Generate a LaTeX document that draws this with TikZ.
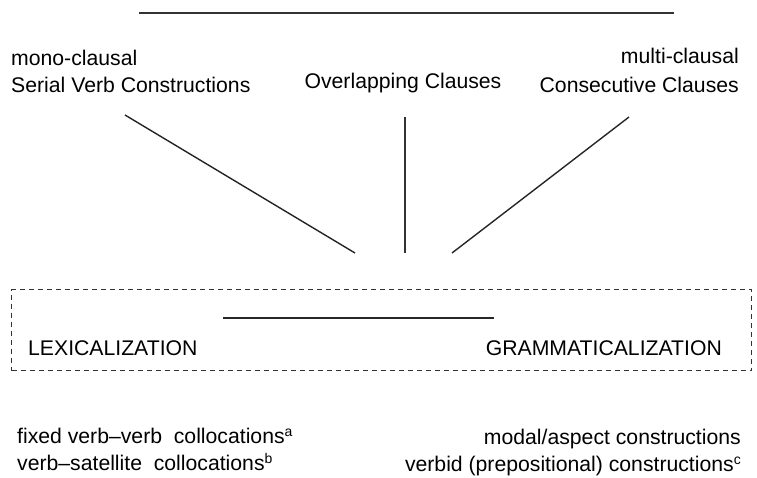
\documentclass[tikz,border=0pt]{standalone}
\usepackage{fontspec}
\setmainfont{Liberation Sans}
\newcommand{\supmark}[1]{\raisebox{0.33em}{\fontsize{14}{14}\selectfont #1}}
\begin{document}
\begin{tikzpicture}[x=1pt,y=-1pt,
  lbl/.style={inner sep=0pt, font=\fontsize{21.2}{25}\selectfont},
  solidline/.style={line width=1.4pt, draw=black!85},
  heavyline/.style={line width=2pt, draw=black!80},
  dashbox/.style={line width=1.2pt, draw=black!80, dash pattern=on 5pt off 4pt}]
\useasboundingbox (0,0) rectangle (757,477);
% top line
\coordinate (tl) at (139,13);
\coordinate (tr) at (674,13);
\draw[heavyline] (tl) -- (tr);
% labels top
\node[lbl, anchor=base west] (mono) at (11,65) {mono-clausal};
\node[lbl, anchor=base west] (svc) at (11,92) {Serial Verb Constructions};
\node[lbl, anchor=base] (oc) at (403,88) {Overlapping Clauses};
\node[lbl, anchor=base east] (multi) at (739,63) {multi-clausal};
\node[lbl, anchor=base east] (cc) at (739,92) {Consecutive Clauses};
% converging lines
\coordinate (l1a) at (125,115);
\coordinate (l1b) at (355,253);
\coordinate (l2a) at (405,117);
\coordinate (l2b) at (405,253);
\coordinate (l3a) at (629,117);
\coordinate (l3b) at (452,253);
\draw[solidline] (l1a) -- (l1b);
\draw[heavyline] (l2a) -- (l2b);
\draw[solidline] (l3a) -- (l3b);
% dashed box
\node[dashbox, draw, rectangle, inner sep=0pt, minimum width=740pt, minimum height=81pt, anchor=north west] (box) at (11,289) {};
\coordinate (il) at (223,318);
\coordinate (ir) at (494,318);
\draw[solidline] (il) -- (ir);
\node[lbl, anchor=base west] (lex) at (28,355) {LEXICALIZATION};
\node[lbl, anchor=base east] (gram) at (722,355) {GRAMMATICALIZATION};
% bottom labels
\node[lbl, anchor=base west] (fvv) at (17,443) {fixed verb–verb\ \ collocations\supmark{a}};
\node[lbl, anchor=base west] (vs) at (17,470) {verb–satellite\ \ collocations\supmark{b}};
\node[lbl, anchor=base east] (ma) at (741,444) {modal/aspect constructions};
\node[lbl, anchor=base east] (vp) at (741,471) {verbid (prepositional) constructions\supmark{c}};
\end{tikzpicture}
\end{document}
